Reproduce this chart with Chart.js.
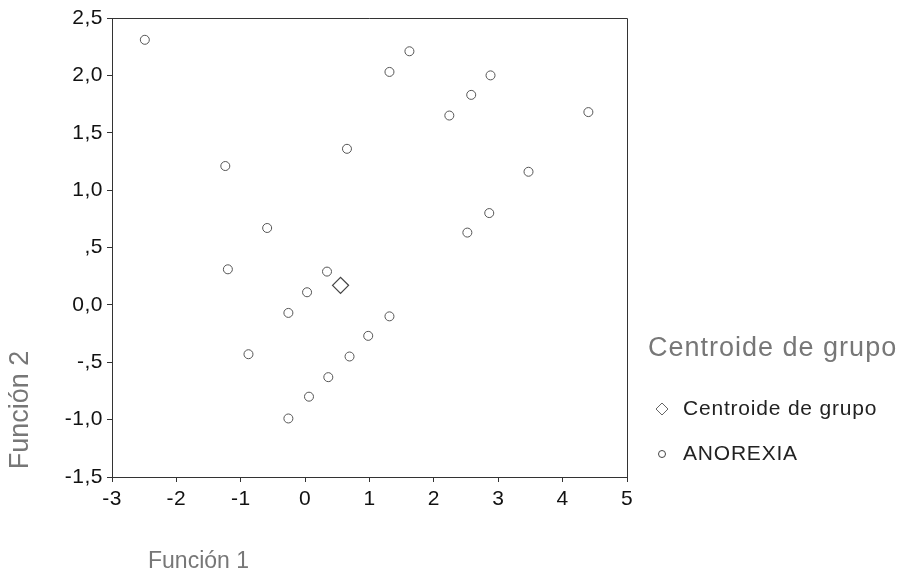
<!DOCTYPE html>
<html>
<head>
<meta charset="utf-8">
<script src="https://cdn.jsdelivr.net/npm/chart.js@4/dist/chart.umd.min.js"></script>
<style>
  html, body { margin: 0; padding: 0; background: #fff; }
</style>
</head>
<body>
<canvas id="chart" width="900" height="582"></canvas>
<script>
// data
const anorexiaX = [-2.49, -1.24, -0.59, 0.65, 1.62, 1.31, 2.88, 2.58, 2.24, 4.40, 3.47, 2.86,
                   2.52, -1.20, 0.34, 0.03, -0.26, -0.88, 0.69, 0.36, 0.06, -0.26, 1.31, 0.98];
const anorexiaY = [2.31, 1.21, 0.67, 1.36, 2.21, 2.03, 2.00, 1.83, 1.65, 1.68, 1.16, 0.80,
                   0.63, 0.31, 0.29, 0.11, -0.07, -0.43, -0.45, -0.63, -0.80, -0.99, -0.10, -0.27];
const centroidX = [0.55];
const centroidY = [0.17];

const xTickValues = [-3, -2, -1, 0, 1, 2, 3, 4, 5];
const xTickLabels = ['-3', '-2', '-1', '0', '1', '2', '3', '4', '5'];
const yTickValues = [-1.5, -1, -0.5, 0, 0.5, 1, 1.5, 2, 2.5];
const yTickLabels = ['-1,5', '-1,0', '-,5', '0,0', ',5', '1,0', '1,5', '2,0', '2,5'];

const xTitle = 'Función 1';
const yTitle = 'Función 2';
const legendTitle = 'Centroide de grupo';
const seriesNames = ['Centroide de grupo', 'ANOREXIA'];

const toPoints = (xs, ys) => xs.map((x, i) => ({ x: x, y: ys[i] }));

function labelFor(values, labels, v) {
  const i = values.findIndex(t => Math.abs(t - v) < 1e-6);
  return i >= 0 ? labels[i] : '';
}

// frame, axis titles and the legend on the right
const extras = {
  id: 'extras',
  beforeDraw(chart) {
    chart.ctx.letterSpacing = '0.5px';
  },
  beforeDatasetsDraw(chart) {
    chart.ctx.letterSpacing = '0px';
  },
  afterDraw(chart) {
    const ctx = chart.ctx;
    const a = chart.chartArea;
    ctx.save();
    ctx.letterSpacing = '0px';

    // top and right side of the box
    ctx.strokeStyle = '#333';
    ctx.lineWidth = 1;
    ctx.beginPath();
    ctx.moveTo(a.left, a.top + 0.5);
    ctx.lineTo(a.right + 0.5, a.top + 0.5);
    ctx.lineTo(a.right + 0.5, a.bottom);
    ctx.stroke();

    // axis titles
    ctx.fillStyle = '#777';
    ctx.textBaseline = 'middle';
    ctx.textAlign = 'left';
    ctx.font = '23px "Liberation Sans", Arial, sans-serif';
    ctx.fillText(xTitle, 148, 562);

    ctx.save();
    ctx.font = '27px "Liberation Sans", Arial, sans-serif';
    ctx.translate(21, 410);
    ctx.rotate(-Math.PI / 2);
    ctx.textAlign = 'center';
    ctx.fillText(yTitle, 0, 0);
    ctx.restore();

    // legend
    ctx.letterSpacing = '1px';
    ctx.font = '27px "Liberation Sans", Arial, sans-serif';
    ctx.fillStyle = '#777';
    ctx.textAlign = 'left';
    ctx.fillText(legendTitle, 648, 349);

    ctx.letterSpacing = '0.8px';
    ctx.font = '21px "Liberation Sans", Arial, sans-serif';
    ctx.fillStyle = '#222';
    ctx.fillText(seriesNames[0], 683, 409);
    ctx.fillText(seriesNames[1], 683, 454);

    ctx.strokeStyle = '#666';
    ctx.lineWidth = 1;
    ctx.beginPath();
    ctx.moveTo(662, 403); ctx.lineTo(668, 409); ctx.lineTo(662, 415); ctx.lineTo(656, 409);
    ctx.closePath();
    ctx.stroke();

    ctx.strokeStyle = '#444';
    ctx.beginPath();
    ctx.arc(662, 454, 3.5, 0, Math.PI * 2);
    ctx.stroke();

    ctx.restore();
  }
};

new Chart(document.getElementById('chart'), {
  type: 'scatter',
  data: {
    datasets: [
      {
        label: seriesNames[0],
        data: toPoints(centroidX, centroidY),
        pointStyle: 'rectRot',
        pointRadius: 8,
        borderColor: '#444',
        backgroundColor: 'rgba(255,255,255,0)',
        borderWidth: 1.3
      },
      {
        label: seriesNames[1],
        data: toPoints(anorexiaX, anorexiaY),
        pointStyle: 'circle',
        pointRadius: 4.5,
        borderColor: '#555',
        backgroundColor: 'rgba(255,255,255,0)',
        borderWidth: 1
      }
    ]
  },
  options: {
    responsive: false,
    devicePixelRatio: 1,
    animation: false,
    layout: { padding: { left: 0, right: 273, top: 18, bottom: 0 } },
    plugins: {
      legend: { display: false },
      tooltip: { enabled: false }
    },
    scales: {
      x: {
        type: 'linear',
        min: -3,
        max: 5,
        afterBuildTicks: s => { s.ticks = xTickValues.map(v => ({ value: v })); },
        afterFit: s => { s.height = 105; },
        ticks: {
          color: '#111',
          padding: 5,
          maxRotation: 0,
          font: { family: '"Liberation Sans", Arial, sans-serif', size: 21 },
          callback: v => labelFor(xTickValues, xTickLabels, v)
        },
        grid: { drawOnChartArea: false, drawTicks: true, tickLength: 5, color: '#333' },
        border: { color: '#333', width: 1 }
      },
      y: {
        type: 'linear',
        min: -1.5,
        max: 2.5,
        afterBuildTicks: s => { s.ticks = yTickValues.map(v => ({ value: v })); },
        afterFit: s => { s.width = 112; },
        ticks: {
          color: '#111',
          padding: 4,
          font: { family: '"Liberation Sans", Arial, sans-serif', size: 21 },
          callback: v => labelFor(yTickValues, yTickLabels, v)
        },
        grid: { drawOnChartArea: false, drawTicks: true, tickLength: 5, color: '#333' },
        border: { color: '#333', width: 1 }
      }
    }
  },
  plugins: [extras]
});
</script>
</body>
</html>
